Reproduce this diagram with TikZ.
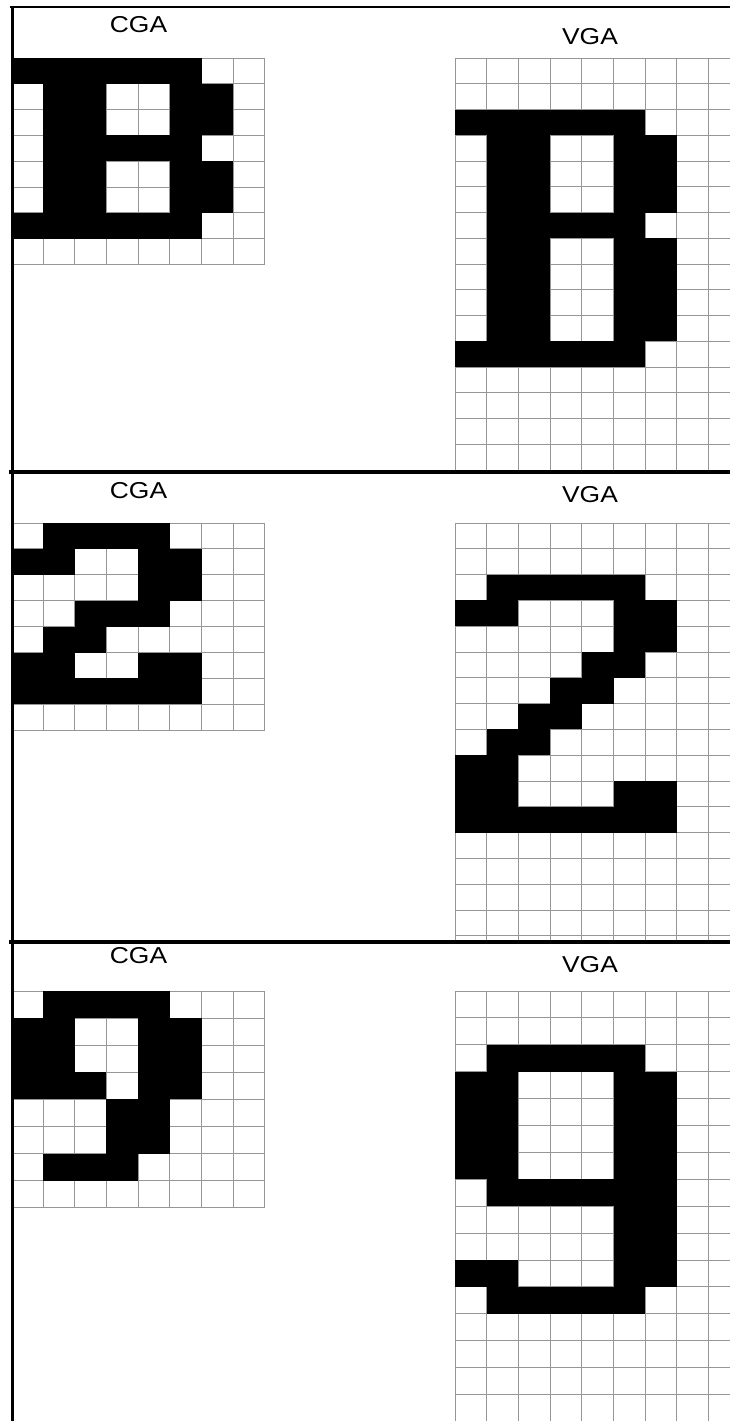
\documentclass[tikz,border=0pt]{standalone}
\usepackage{fontspec}
\setmainfont{Liberation Sans}
\definecolor{gridgray}{RGB}{150,150,150}
\tikzset{
  gridline/.style={draw=gridgray,line width=0.9pt},
  frameline/.style={draw=black,line cap=rect},
  lbl/.style={font=\fontsize{23}{23}\selectfont,inner sep=0pt,xscale=1.15,transform shape}
}
\newcommand\glyphgrid[6]{%
  \begin{scope}[shift={(#1,#2)}]
    \foreach \i in {0,...,#4} \draw[gridline] (\i*31.7,0) -- (\i*31.7,#5*#3);
    \foreach \j in {0,...,#5} \draw[gridline] (0,\j*#3) -- (#4*31.7,\j*#3);
    \foreach \r/\a/\b in {#6} \fill[black] (\a*31.7,\r*#3) rectangle ({(\b+1)*31.7},{(\r+1)*#3});
  \end{scope}}
\begin{document}
\begin{tikzpicture}[x=1pt,y=-1pt]
\useasboundingbox[fill=white] (0,0) rectangle (730,1421);
% panel 1
\glyphgrid{11.3}{58}{25.8}{8}{8}{0/0/5,1/1/2,1/5/6,2/1/2,2/5/6,3/1/5,4/1/2,4/5/6,5/1/2,5/5/6,6/0/5}
\begin{scope}
\clip (440,40) rectangle (730,472);
\glyphgrid{455}{58}{25.75}{10}{17}{2/0/5,3/1/2,3/5/6,4/1/2,4/5/6,5/1/2,5/5/6,6/1/5,7/1/2,7/5/6,8/1/2,8/5/6,9/1/2,9/5/6,10/1/2,10/5/6,11/0/5}
\end{scope}
% panel 2
\glyphgrid{11.3}{523}{25.9}{8}{8}{0/1/4,1/0/1,1/4/5,2/4/5,3/2/4,4/1/2,5/0/1,5/4/5,6/0/5}
\begin{scope}
\clip (440,500) rectangle (730,942);
\glyphgrid{455}{523}{25.8}{10}{17}{2/1/5,3/0/1,3/5/6,4/5/6,5/4/5,6/3/4,7/2/3,8/1/2,9/0/1,10/0/1,10/5/6,11/0/6}
\end{scope}
% panel 3
\glyphgrid{11.3}{991}{27.1}{8}{8}{0/1/4,1/0/1,1/4/5,2/0/1,2/4/5,3/0/2,3/4/5,4/3/4,5/3/4,6/1/3}
\begin{scope}
\clip (440,970) rectangle (730,1421);
\glyphgrid{455}{991}{26.9}{10}{17}{2/1/5,3/0/1,3/5/6,4/0/1,4/5/6,5/0/1,5/5/6,6/0/1,6/5/6,7/1/6,8/5/6,9/5/6,10/0/1,10/5/6,11/1/5}
\end{scope}
% labels
\node[lbl] (cga1) at (138.5,25) {CGA};
\node[lbl] (vga1) at (590,37) {VGA};
\node[lbl] (cga2) at (138.5,490.5) {CGA};
\node[lbl] (vga2) at (590,495) {VGA};
\node[lbl] (cga3) at (138.5,956) {CGA};
\node[lbl] (vga3) at (590,964.5) {VGA};
% frame
\draw[frameline,line width=2pt] (11,6.7) -- (730,6.7);
\draw[frameline,line width=4pt] (11,472) -- (730,472);
\draw[frameline,line width=4pt] (11,942) -- (730,942);
\draw[black,line width=3pt] (12,5.7) -- (12,1421);
\end{tikzpicture}
\end{document}
